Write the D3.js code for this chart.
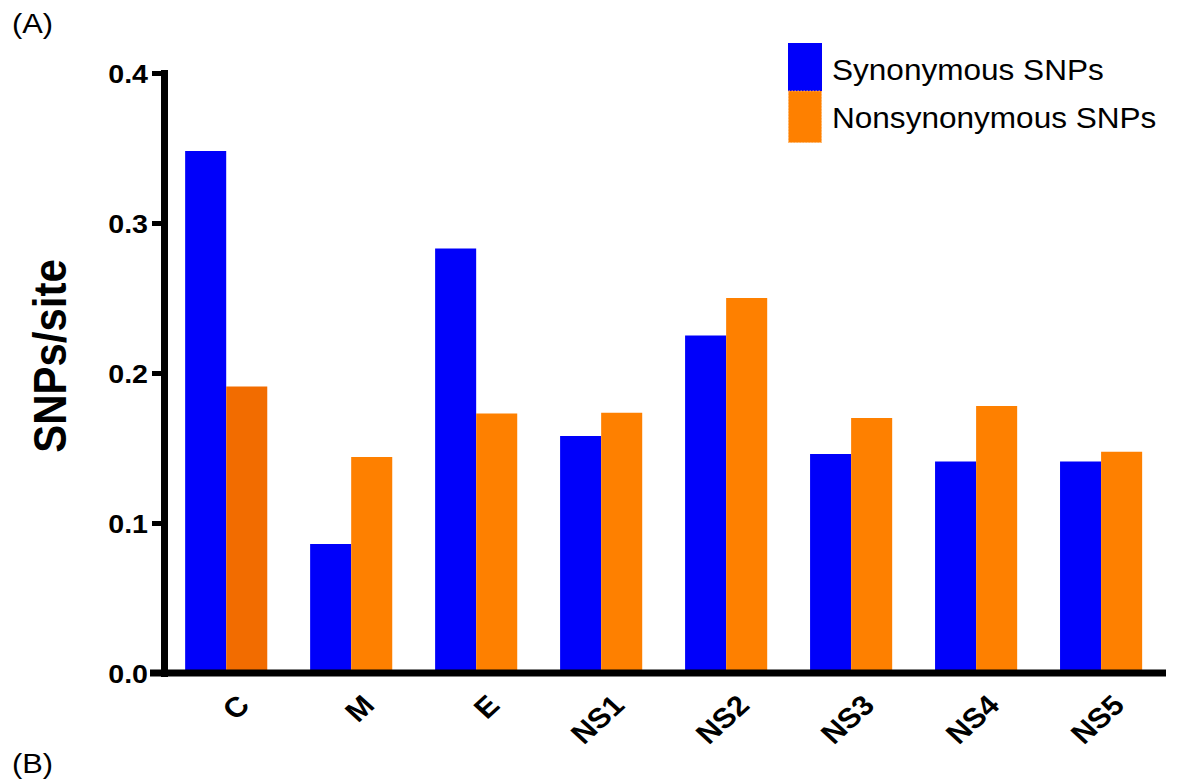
<!DOCTYPE html>
<html>
<head>
<meta charset="utf-8">
<script src="https://cdn.jsdelivr.net/npm/d3@7"></script>
<style>
  html, body { margin: 0; padding: 0; background: #fff; }
  svg { display: block; }
  text { font-family: "Liberation Sans", Arial, Helvetica, sans-serif; fill: #000; }
</style>
</head>
<body>
<svg id="chart" width="1183" height="782"></svg>
<script>
// Genes and SNP densities (SNPs per site)
const genes = ["C", "M", "E", "NS1", "NS2", "NS3", "NS4", "NS5"];
const synonymous = [0.348, 0.086, 0.283, 0.158, 0.225, 0.146, 0.141, 0.141];
const nonsynonymous = [0.191, 0.144, 0.173, 0.1735, 0.250, 0.170, 0.178, 0.1475];
const seriesNames = ["Synonymous SNPs", "Nonsynonymous SNPs"];
const yTicks = [0.0, 0.1, 0.2, 0.3, 0.4];

const BLUE = "#0000fa";
const ORANGE = "#fe8000";
const ORANGE_DARK = "#f26c00";
const SX = 1.1; // horizontal text stretch

const svg = d3.select("#chart");

const axisX = 164;
const x0 = d3.scaleBand().domain(genes).range([axisX, 1166])
  .paddingInner(0.343).paddingOuter(0.18).align(0.47);
const keys = ["syn", "non"];
const x1 = d3.scaleBand().domain(keys).range([0, x0.bandwidth()]);
const y = d3.scaleLinear().domain([0, 0.4]).range([673, 73]);

const rows = genes.map((g, i) => ({ gene: g, i, syn: synonymous[i], non: nonsynonymous[i] }));

// Bars
const groups = svg.append("g").selectAll("g").data(rows).join("g")
  .attr("transform", d => `translate(${x0(d.gene)},0)`);
groups.selectAll("rect")
  .data(d => keys.map(k => ({ key: k, value: d[k], i: d.i })))
  .join("rect")
  .attr("x", d => x1(d.key))
  .attr("width", x1.bandwidth())
  .attr("y", d => y(d.value))
  .attr("height", d => y(0) - y(d.value))
  .attr("fill", d => d.key === "syn" ? BLUE : (d.i === 0 ? ORANGE_DARK : ORANGE));

// Y axis
const yAxis = svg.append("g").attr("transform", `translate(${axisX},0)`)
  .call(d3.axisLeft(y).tickValues(yTicks).tickFormat(d3.format(".1f"))
    .tickSize(12).tickSizeOuter(0));
yAxis.select(".domain").attr("stroke", "#000").attr("stroke-width", 7)
  .attr("stroke-linecap", "square");
yAxis.selectAll(".tick line").attr("stroke", "#000").attr("stroke-width", 5);
yAxis.selectAll(".tick text")
  .attr("x", null).attr("dy", "0.36em")
  .attr("transform", `translate(-16,0) scale(${SX},1)`)
  .attr("text-anchor", "end")
  .style("font-size", "26px").style("font-weight", "bold");

// X axis
const xAxis = svg.append("g").attr("transform", `translate(0,${y(0)})`)
  .call(d3.axisBottom(x0).tickSize(0).tickSizeOuter(0));
xAxis.select(".domain").attr("stroke", "#000").attr("stroke-width", 7)
  .attr("d", `M${axisX - 14},0H${x0.range()[1]}`);
xAxis.selectAll(".tick text")
  .attr("x", null).attr("y", null).attr("dy", null)
  .attr("text-anchor", "end")
  .attr("transform", `translate(25,34) scale(${SX},1) rotate(-45)`)
  .style("font-size", "28px").style("font-weight", "bold");

// Y axis title
svg.append("text")
  .attr("transform", `translate(66,356) scale(${SX},1) rotate(-90)`)
  .attr("text-anchor", "middle")
  .style("font-size", "42px").style("font-weight", "bold")
  .text("SNPs/site");

// Legend
const legend = svg.append("g").attr("transform", "translate(788,43)");
const swatchW = 34;
const swatchH = [48, 52];
legend.append("rect").attr("x", 0).attr("y", 0).attr("width", swatchW).attr("height", swatchH[0])
  .attr("fill", BLUE);
legend.append("rect").attr("x", 0.5).attr("y", swatchH[0]).attr("width", swatchW - 1).attr("height", swatchH[1] - 0.5)
  .attr("fill", ORANGE).attr("stroke", "#ffb060").attr("stroke-width", 1).attr("stroke-dasharray", "1.5,1.5");
legend.selectAll("text.lbl").data(seriesNames).join("text").attr("class", "lbl")
  .attr("transform", (d, i) => `translate(44,${i === 0 ? 37 : 85}) scale(1.07,1)`)
  .style("font-size", "29.5px")
  .text(d => d);

// Panel letters
svg.append("text").attr("transform", `translate(12,33) scale(${SX},1)`)
  .style("font-size", "28px").text("(A)");
svg.append("text").attr("transform", `translate(12,773) scale(${SX},1)`)
  .style("font-size", "28px").text("(B)");
</script>
</body>
</html>
